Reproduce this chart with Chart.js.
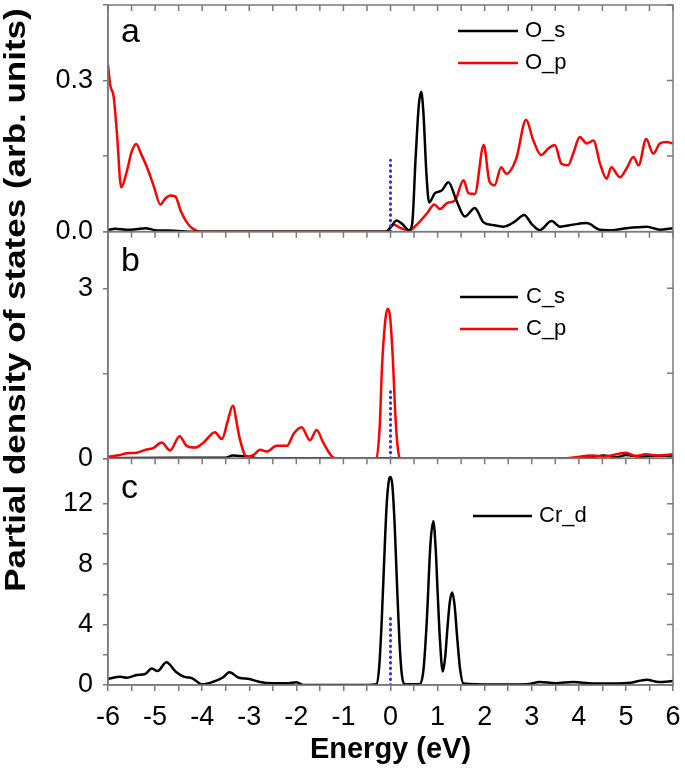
<!DOCTYPE html>
<html>
<head>
<meta charset="utf-8">
<script src="https://cdn.jsdelivr.net/npm/chart.js@4.4.1/dist/chart.umd.min.js"></script>
<style>
  html, body { margin: 0; padding: 0; background: #fff; }
  #wrap { position: relative; width: 685px; height: 779px; }
</style>
</head>
<body>
<div id="wrap"><canvas id="pdos"></canvas></div>
<script>
// panel a: O
const eOs = [-6, -5.85, -5.6, -5.4, -5.2, -5.0, -4.6, -4.2, -0.1, 0.0, 0.13, 0.25, 0.39, 0.46, 0.53, 0.6, 0.65, 0.7, 0.76, 0.82, 0.94, 1.09, 1.23, 1.4, 1.58, 1.79, 1.97, 2.18, 2.4, 2.64, 2.84, 3.0, 3.17, 3.42, 3.6, 3.88, 4.17, 4.45, 4.73, 5.01, 5.44, 5.72, 6.0];
const Os  = [0.003, 0.006, 0.004, 0.005, 0.007, 0.003, 0.002, 0, 0, 0.008, 0.022, 0.015, 0.003, 0.015, 0.14, 0.25, 0.278, 0.235, 0.12, 0.058, 0.076, 0.082, 0.098, 0.062, 0.03, 0.047, 0.019, 0.013, 0.01, 0.02, 0.033, 0.015, 0.003, 0.021, 0.01, 0.014, 0.017, 0.004, 0.003, 0.007, 0.01, 0.004, 0.007];
const eOp = [-6, -5.95, -5.88, -5.81, -5.72, -5.6, -5.5, -5.4, -5.3, -5.16, -5.02, -4.89, -4.78, -4.68, -4.57, -4.45, -4.3, -4.2, -4.05, -0.1, 0.06, 0.2, 0.39, 0.57, 0.78, 0.93, 1.05, 1.21, 1.37, 1.55, 1.66, 1.79, 1.98, 2.1, 2.21, 2.35, 2.46, 2.67, 2.88, 3.03, 3.2, 3.35, 3.49, 3.63, 3.77, 3.88, 4.02, 4.17, 4.31, 4.45, 4.59, 4.69, 4.87, 5.01, 5.16, 5.27, 5.43, 5.58, 5.72, 5.86, 6.0];
const Op  = [0.331, 0.29, 0.268, 0.195, 0.088, 0.12, 0.158, 0.174, 0.155, 0.125, 0.088, 0.054, 0.066, 0.072, 0.07, 0.04, 0.015, 0.006, 0, 0, 0.014, 0.008, 0.002, 0.015, 0.037, 0.054, 0.045, 0.057, 0.062, 0.102, 0.076, 0.075, 0.172, 0.1, 0.092, 0.128, 0.115, 0.145, 0.222, 0.182, 0.152, 0.165, 0.172, 0.135, 0.132, 0.155, 0.188, 0.175, 0.181, 0.135, 0.105, 0.128, 0.108, 0.125, 0.148, 0.132, 0.184, 0.155, 0.175, 0.178, 0.175];

// panel b: C
const eCs = [-6, -4.5, -3.5, -3.35, -3.2, -3.0, -2.8, 3.6, 4.3, 4.52, 4.8, 5.0, 5.3, 5.6, 6.0];
const Cs  = [0, 0.01, 0.01, 0.05, 0.04, 0.03, 0, 0, 0.02, 0.05, 0.02, 0.06, 0.03, 0.04, 0.05];
const eCp = [-6, -5.74, -5.6, -5.39, -5.21, -5.04, -4.86, -4.68, -4.48, -4.33, -4.15, -3.97, -3.73, -3.58, -3.46, -3.35, -3.25, -3.2, -3.05, -2.91, -2.77, -2.63, -2.42, -2.2, -2.06, -1.89, -1.71, -1.57, -1.43, -1.25, -1.14, -0.3, -0.23, -0.18, -0.11, -0.06, -0.01, 0.05, 0.1, 0.15, 0.2, 3.67, 4.3, 4.52, 5.0, 5.21, 5.42, 5.7, 6.0];
const Cp  = [0.03, 0.06, 0.09, 0.1, 0.15, 0.18, 0.28, 0.14, 0.39, 0.22, 0.19, 0.28, 0.46, 0.34, 0.65, 0.93, 0.55, 0.34, 0.02, 0.06, 0.15, 0.12, 0.22, 0.22, 0.43, 0.55, 0.32, 0.5, 0.28, 0.04, 0, 0, 0.55, 1.62, 2.44, 2.64, 2.5, 1.75, 0.81, 0.22, 0, 0, 0.05, 0.03, 0.1, 0.04, 0.07, 0.05, 0.07];

// panel c: Cr
const eCr = [-6, -5.74, -5.6, -5.39, -5.21, -5.07, -4.95, -4.76, -4.56, -4.39, -4.21, -4.0, -3.78, -3.57, -3.42, -3.22, -3.0, -2.8, -2.5, -2.2, -2.0, -1.85, -0.5, -0.3, -0.24, -0.19, -0.14, -0.08, -0.03, 0.0, 0.04, 0.09, 0.14, 0.19, 0.24, 0.3, 0.62, 0.7, 0.77, 0.85, 0.91, 0.96, 1.0, 1.05, 1.11, 1.16, 1.21, 1.26, 1.31, 1.36, 1.42, 1.48, 1.55, 2.18, 2.89, 3.17, 3.5, 3.88, 4.3, 4.73, 5.1, 5.44, 5.7, 6.0];
const Crd = [0.4, 0.55, 0.48, 0.66, 0.73, 1.1, 0.92, 1.5, 0.88, 0.55, 0.44, 0.05, 0.2, 0.48, 0.84, 0.48, 0.4, 0.22, 0.11, 0.11, 0.18, 0, 0, 0.05, 1.2, 4.0, 7.8, 12.0, 13.6, 13.76, 13.2, 10.5, 6.5, 2.9, 0.7, 0.05, 0.05, 1.0, 4.2, 9.4, 10.83, 9.0, 6.2, 3.0, 0.9, 1.8, 3.8, 5.5, 6.12, 5.3, 3.0, 1.0, 0.1, 0.03, 0.05, 0.2, 0.12, 0.2, 0.1, 0.1, 0.15, 0.35, 0.2, 0.26];

// Fermi level markers (dotted, blue)
const eF = [0, 0];
const fermiA = [0, 0.142];
const fermiB = [0, 1.26];
const fermiC = [0, 4.62];

const xTicks = [-6, -5, -4, -3, -2, -1, 0, 1, 2, 3, 4, 5, 6];
const aLabels = [0, 0.3];
const bLabels = [0, 3];
const cLabels = [0, 4, 8, 12];

const axisColor = '#7a7a7a';
const FONT = "'Liberation Sans', Arial, sans-serif";
Chart.defaults.font.family = FONT;
Chart.defaults.color = '#000';

function pts(xs, ys) { return xs.map((x, i) => ({ x: x, y: ys[i] })); }
function hasLabel(list, v) { return list.some(l => Math.abs(l - v) < 1e-6); }

function line(id, xs, ys, color, width, order) {
  return {
    data: pts(xs, ys), yAxisID: id, borderColor: color, borderWidth: width,
    pointRadius: 0, fill: false, cubicInterpolationMode: 'monotone', order: order
  };
}
function dotted(id, ys) {
  return {
    data: pts(eF, ys), yAxisID: id, borderColor: '#2b2bff', borderWidth: 3,
    borderDash: [0.5, 5], borderCapStyle: 'round', pointRadius: 0, fill: false, order: 0
  };
}

function yScale(max, step, labels, fmt) {
  return {
    type: 'linear', position: 'left', stack: 'pdos', stackWeight: 1,
    min: 0, max: max,
    afterFit: s => { s.width = 108; s.paddingTop = 0; s.paddingBottom = 0; },
    border: { color: axisColor, width: 1.5 },
    grid: { drawOnChartArea: false, drawTicks: true, tickLength: 5, color: axisColor, lineWidth: 1.5 },
    ticks: {
      stepSize: step, autoSkip: false, padding: 10,
      font: { size: 27 },
      callback: v => hasLabel(labels, v) ? fmt(v) : ''
    }
  };
}

const panelDeco = {
  id: 'panelDeco',
  afterDatasetsDraw(chart) {
    const ctx = chart.ctx, area = chart.chartArea, sx = chart.scales.x;
    ctx.save();
    ctx.strokeStyle = axisColor;
    ctx.lineWidth = 1.5;
    ['ya', 'yb', 'yc'].forEach(id => {
      const s = chart.scales[id];
      ctx.strokeRect(area.left, s.top, area.right - area.left, s.bottom - s.top);
      ctx.beginPath();
      sx.ticks.forEach(t => {
        const px = sx.getPixelForValue(t.value);
        ctx.moveTo(px, s.top); ctx.lineTo(px, s.top + 6);
      });
      s.ticks.forEach(t => {
        const py = s.getPixelForValue(t.value);
        ctx.moveTo(area.right - 6, py); ctx.lineTo(area.right, py);
      });
      ctx.stroke();
    });
    ctx.restore();
  },
  afterDraw(chart) {
    const ctx = chart.ctx;
    ctx.save();
    ctx.fillStyle = '#000';
    ctx.textBaseline = 'middle';
    // panel letters
    ctx.font = '34px ' + FONT;
    ctx.textAlign = 'left';
    [['a', 33], ['b', 262], ['c', 489]].forEach(([t, y]) => ctx.fillText(t, 121, y));
    // legends
    const legends = [
      [458, 518, 525, 31, 'O_s', '#000'], [458, 518, 525, 63, 'O_p', '#ff0000'],
      [460, 518, 526, 297, 'C_s', '#000'], [460, 518, 526, 329, 'C_p', '#ff0000'],
      [473, 532, 539, 516, 'Cr_d', '#000']
    ];
    ctx.font = '22px ' + FONT;
    ctx.lineWidth = 2.5;
    legends.forEach(([x0, x1, tx, y, t, c]) => {
      ctx.strokeStyle = c;
      ctx.beginPath(); ctx.moveTo(x0, y); ctx.lineTo(x1, y); ctx.stroke();
      ctx.fillText(t, tx, y);
    });
    // y title (glyphs slightly squeezed like the source figure)
    ctx.font = 'bold 35px ' + FONT;
    ctx.textAlign = 'center';
    ctx.translate(17, 300);
    ctx.rotate(-Math.PI / 2);
    ctx.scale(1, 0.82);
    ctx.fillText('Partial density of states (arb. units)', 0, 0);
    ctx.restore();
  }
};

new Chart(document.getElementById('pdos'), {
  type: 'line',
  data: {
    datasets: [
      dotted('ya', fermiA), dotted('yb', fermiB), dotted('yc', fermiC),
      line('ya', eOs, Os, '#000', 2.5, 1), line('ya', eOp, Op, '#ff0000', 2.5, 2),
      line('yb', eCs, Cs, '#000', 2.5, 2), line('yb', eCp, Cp, '#ff0000', 2.5, 1),
      line('yc', eCr, Crd, '#000', 2.5, 1)
    ]
  },
  options: {
    responsive: true, maintainAspectRatio: false, animation: false,
    layout: { padding: { top: 5, right: 12, left: 0, bottom: 0 } },
    plugins: { legend: { display: false }, tooltip: { enabled: false } },
    scales: {
      x: {
        type: 'linear', min: -6, max: 6,
        afterFit: s => { s.height = 94; s.paddingLeft = 0; s.paddingRight = 0; },
        border: { color: axisColor, width: 1.5 },
        grid: { drawOnChartArea: false, drawTicks: true, tickLength: 6, color: axisColor, lineWidth: 1.5 },
        ticks: {
          stepSize: 0.5, autoSkip: false, maxRotation: 0, padding: 10,
          font: { size: 27 },
          callback: v => hasLabel(xTicks, v) ? String(v) : ''
        },
        title: { display: true, text: 'Energy (eV)', font: { size: 29, weight: 'bold' }, padding: { top: 0, bottom: 12 } }
      },
      yc: yScale(15, 2, cLabels, v => String(v)),
      yb: yScale(4, 1.5, bLabels, v => String(v)),
      ya: yScale(0.45, 0.15, aLabels, v => v.toFixed(1))
    }
  },
  plugins: [panelDeco]
});
</script>
</body>
</html>
